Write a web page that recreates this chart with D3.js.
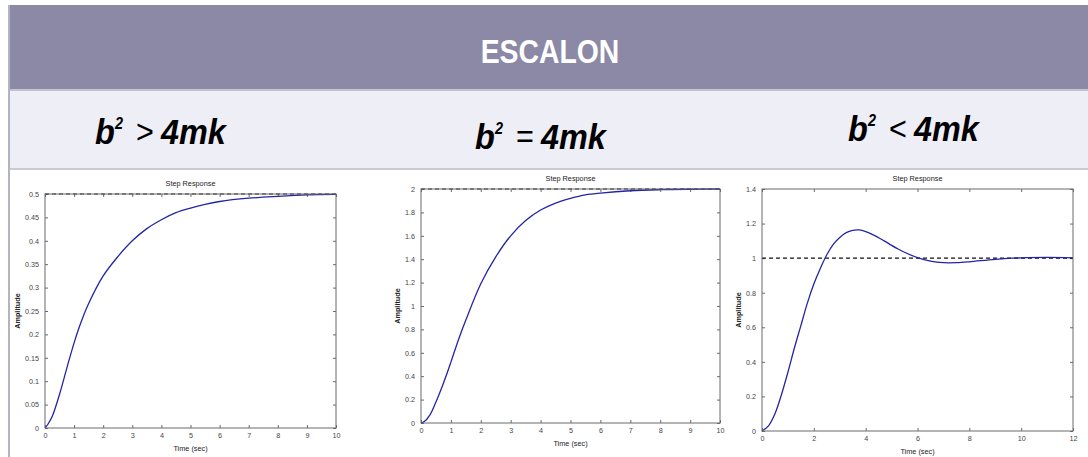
<!DOCTYPE html>
<html>
<head>
<meta charset="utf-8">
<script src="https://cdn.jsdelivr.net/npm/d3@7"></script>
<style>
  html, body { margin: 0; padding: 0; background: #ffffff; }
  svg { display: block; }
</style>
</head>
<body>
<svg id="chart" width="1088" height="457"></svg>
<script>
// Step responses of a mass-spring-damper system for the three damping cases.

// Overdamped case (b^2 > 4mk): time (s) and amplitude
const overTime  = [0, 0.1, 0.25, 0.5, 0.75, 1, 1.25, 1.5, 2, 2.5, 3, 3.5, 4, 4.5, 5, 5.5, 6, 7, 8, 9, 10];
const overAmp   = [0, 0.008, 0.025, 0.072, 0.128, 0.182, 0.228, 0.266, 0.325, 0.366, 0.400, 0.426, 0.445, 0.460, 0.470, 0.478, 0.484, 0.491, 0.495, 0.498, 0.499];
const overFinal = 0.5;

// Critically damped case (b^2 = 4mk)
const critTime  = [0, 0.1, 0.3, 0.5, 0.75, 1, 1.25, 1.5, 2, 2.5, 3, 3.5, 4, 4.5, 5, 5.5, 6, 7, 8, 9, 10];
const critAmp   = [0, 0.01, 0.07, 0.18, 0.34, 0.52, 0.71, 0.88, 1.19, 1.42, 1.60, 1.73, 1.82, 1.88, 1.92, 1.95, 1.965, 1.985, 1.994, 1.998, 2.0];
const critFinal = 2;

// Underdamped case (b^2 < 4mk)
const underTime  = [0, 0.25, 0.5, 0.75, 1, 1.25, 1.5, 1.75, 2, 2.25, 2.5, 2.75, 3, 3.25, 3.5, 3.75, 4, 4.25, 4.5, 4.75, 5, 5.25, 5.5, 6, 6.5, 7, 7.5, 8, 9, 10, 11, 12];
const underAmp   = [0, 0.03, 0.10, 0.21, 0.34, 0.48, 0.61, 0.74, 0.85, 0.94, 1.02, 1.08, 1.12, 1.148, 1.161, 1.163, 1.154, 1.138, 1.118, 1.097, 1.074, 1.053, 1.034, 1.003, 0.983, 0.974, 0.974, 0.979, 0.993, 1.002, 1.004, 1.002];
const underFinal = 1;

// Axis ticks
const overXTicks  = [0, 1, 2, 3, 4, 5, 6, 7, 8, 9, 10];
const overYTicks  = [0, 0.05, 0.1, 0.15, 0.2, 0.25, 0.3, 0.35, 0.4, 0.45, 0.5];
const critXTicks  = [0, 1, 2, 3, 4, 5, 6, 7, 8, 9, 10];
const critYTicks  = [0, 0.2, 0.4, 0.6, 0.8, 1, 1.2, 1.4, 1.6, 1.8, 2];
const underXTicks = [0, 2, 4, 6, 8, 10, 12];
const underYTicks = [0, 0.2, 0.4, 0.6, 0.8, 1, 1.2, 1.4];

// Header texts
const headerTitle = "ESCALON";
const caseRelations = [">", "=", "<"];
const plotTitle = "Step Response";
const xLabel = "Time (sec)";
const yLabel = "Amplitude";

const svg = d3.select("#chart");
const fontFam = "Liberation Sans, Arial, sans-serif";

// ---------- banner ----------
svg.append("rect").attr("x", 9).attr("y", 5).attr("width", 1079).attr("height", 84).attr("fill", "#8b89a6");
svg.append("rect").attr("x", 9).attr("y", 89).attr("width", 1079).attr("height", 2).attr("fill", "#c3c2d3");
svg.append("rect").attr("x", 9).attr("y", 91).attr("width", 1079).attr("height", 77).attr("fill", "#eeeef6");
svg.append("rect").attr("x", 9).attr("y", 168).attr("width", 1079).attr("height", 2).attr("fill", "#cbcad4");
svg.append("rect").attr("x", 8).attr("y", 5).attr("width", 2).attr("height", 452).attr("fill", "#b4b3c2");

svg.append("text")
  .attr("transform", "translate(550,63) scale(0.86,1)")
  .attr("text-anchor", "middle")
  .attr("font-family", fontFam)
  .attr("font-weight", "bold")
  .attr("font-size", 33)
  .attr("fill", "#ffffff")
  .text(headerTitle);

// ---------- case formulas ----------
const formulaPos = [
  { x: 95, y: 144 },
  { x: 475, y: 149 },
  { x: 848, y: 141 }
];
caseRelations.forEach((rel, i) => {
  const g = svg.append("g").attr("transform", `translate(${formulaPos[i].x},${formulaPos[i].y})`);
  const piece = (dx, dy, size, bold, italic, txt) => g.append("text")
    .attr("transform", `translate(${dx},${dy}) scale(0.9,1)`)
    .attr("font-family", fontFam)
    .attr("font-size", size)
    .attr("font-weight", bold ? "bold" : "normal")
    .attr("font-style", italic ? "italic" : "normal")
    .attr("fill", "#000")
    .text(txt);
  piece(0, 0, 36, true, true, "b");
  piece(20, -15, 16, true, true, "2");
  piece(41, -1, 34, false, false, rel);
  piece(66, 0, 36, true, true, "4mk");
});

// ---------- step-response panels ----------
const panels = [
  { time: overTime, amp: overAmp, final: overFinal, xMax: 10, yMax: 0.5, xTicks: overXTicks, yTicks: overYTicks,
    left: 45, right: 336, top: 194, bottom: 428, yLabelOff: 28 },
  { time: critTime, amp: critAmp, final: critFinal, xMax: 10, yMax: 2, xTicks: critXTicks, yTicks: critYTicks,
    left: 421, right: 720, top: 189, bottom: 423, yLabelOff: 24 },
  { time: underTime, amp: underAmp, final: underFinal, xMax: 12, yMax: 1.4, xTicks: underXTicks, yTicks: underYTicks,
    left: 762, right: 1073, top: 189, bottom: 431, yLabelOff: 24 }
];

const axisColor = "#6a6a6a";
const labelColor = "#444444";

panels.forEach(p => {
  const x = d3.scaleLinear().domain([0, p.xMax]).range([p.left, p.right]);
  const y = d3.scaleLinear().domain([0, p.yMax]).range([p.bottom, p.top]);
  const g = svg.append("g");

  g.append("rect")
    .attr("x", p.left).attr("y", p.top)
    .attr("width", p.right - p.left).attr("height", p.bottom - p.top)
    .attr("fill", "#ffffff");

  const fmt = d => String(d);

  const styleAxis = sel => {
    sel.select(".domain").remove();
    sel.selectAll(".tick line").attr("stroke", axisColor);
    sel.selectAll(".tick text").attr("fill", labelColor).attr("font-family", fontFam).attr("font-size", 7.2);
  };

  g.append("g").attr("transform", `translate(0,${p.bottom})`)
    .call(d3.axisBottom(x).tickValues(p.xTicks).tickFormat(fmt).tickSizeInner(-3).tickSizeOuter(0).tickPadding(5))
    .call(styleAxis);
  g.append("g").attr("transform", `translate(0,${p.top})`)
    .call(d3.axisTop(x).tickValues(p.xTicks).tickFormat("").tickSizeInner(-3).tickSizeOuter(0))
    .call(styleAxis);
  g.append("g").attr("transform", `translate(${p.left},0)`)
    .call(d3.axisLeft(y).tickValues(p.yTicks).tickFormat(fmt).tickSizeInner(-3).tickSizeOuter(0).tickPadding(6))
    .call(styleAxis);
  g.append("g").attr("transform", `translate(${p.right},0)`)
    .call(d3.axisRight(y).tickValues(p.yTicks).tickFormat("").tickSizeInner(-3).tickSizeOuter(0))
    .call(styleAxis);

  // final-value reference line
  g.append("line")
    .attr("x1", x(0)).attr("x2", x(p.xMax))
    .attr("y1", y(p.final)).attr("y2", y(p.final))
    .attr("stroke", "#111").attr("stroke-width", 1.2).attr("stroke-dasharray", "4,3");

  // response curve
  const pts = p.time.map((t, i) => [t, p.amp[i]]);
  g.append("path")
    .datum(pts)
    .attr("fill", "none")
    .attr("stroke", "#2424a6")
    .attr("stroke-width", 1.3)
    .attr("d", d3.line().x(d => x(d[0])).y(d => y(d[1])).curve(d3.curveCatmullRom.alpha(0.5)));

  // frame
  g.append("rect")
    .attr("x", p.left).attr("y", p.top)
    .attr("width", p.right - p.left).attr("height", p.bottom - p.top)
    .attr("fill", "none").attr("stroke", axisColor).attr("stroke-width", 1);

  // titles
  g.append("text")
    .attr("x", (p.left + p.right) / 2).attr("y", p.top - 8)
    .attr("text-anchor", "middle")
    .attr("font-family", fontFam).attr("font-size", 7.3).attr("fill", "#222")
    .text(plotTitle);
  g.append("text")
    .attr("x", (p.left + p.right) / 2).attr("y", p.bottom + 23)
    .attr("text-anchor", "middle")
    .attr("font-family", fontFam).attr("font-size", 7.3).attr("fill", "#222")
    .text(xLabel);
  g.append("text")
    .attr("transform", `translate(${p.left - p.yLabelOff},${(p.top + p.bottom) / 2}) rotate(-90)`)
    .attr("text-anchor", "middle")
    .attr("dy", "0.35em")
    .attr("font-family", fontFam).attr("font-size", 7.3).attr("font-weight", "bold").attr("fill", "#222")
    .text(yLabel);
});
</script>
</body>
</html>
